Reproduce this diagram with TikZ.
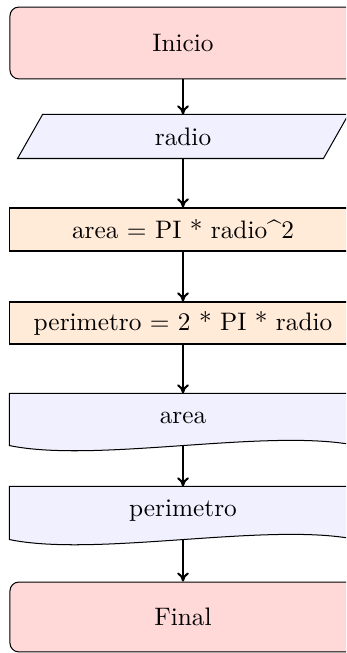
\documentclass[tikz,border=0pt]{standalone}
\usetikzlibrary{calc,arrows.meta}
\definecolor{termfill}{RGB}{255,216,216}
\definecolor{iofill}{RGB}{240,240,255}
\definecolor{procfill}{RGB}{255,235,216}
\begin{document}
\begin{tikzpicture}[x=0.3953pt,y=-0.3953pt,
  base/.style={minimum width=136.8pt,inner sep=2pt,font=\normalsize},
  term/.style={base,draw=black,fill=termfill,rounded corners=3.5pt,line width=0.4pt},
  proc/.style={base,draw=black,fill=procfill,line width=0.4pt},
  txt/.style={base,draw=none},
  ioshape/.style={draw=black,fill=iofill,line width=0.4pt},
  conn/.style={thick,-{To[length=3.6pt,width=4.6pt]}}]
\useasboundingbox (0,0) rectangle (346,653);
\clip (0,0) rectangle (346,653);
% terminal start
\node[term,minimum height=28.4pt] (ini) at (183,43) {Inicio};
% input parallelogram
\node[txt,minimum width=130.4pt,minimum height=17pt] (rad) at (183,136.5) {};
\filldraw[ioshape] (rad.south west) -- ($(rad.south east)+(-25,0)$) -- (rad.north east) -- ($(rad.north west)+(25,0)$) -- cycle;
\node at (rad.center) {radio};
% process boxes
\node[proc,minimum height=17pt] (are) at (183,229.5) {area = PI * radio\textasciicircum 2};
\node[proc,minimum height=16.6pt] (per) at (183,323) {perimetro = 2 * PI * radio};
% output documents
\node[txt,minimum height=20.2pt] (out1) at (183,419.5) {};
\filldraw[ioshape] (out1.south east) -- (out1.north east) -- (out1.north west) -- (out1.south west)
  .. controls ($(out1.south west)+(87,18)$) and ($(out1.south east)+(-87,-18)$) .. (out1.south east) -- cycle;
\node at ($(out1.center)+(0,-2)$) {area};
\node[txt,minimum height=20.6pt] (out2) at (183,513) {};
\filldraw[ioshape] (out2.south east) -- (out2.north east) -- (out2.north west) -- (out2.south west)
  .. controls ($(out2.south west)+(87,18)$) and ($(out2.south east)+(-87,-18)$) .. (out2.south east) -- cycle;
\node at ($(out2.center)+(0,-2)$) {perimetro};
% terminal end
\node[term,minimum height=27.6pt] (fin) at (183,617) {Final};
% connectors
\draw[conn] (ini) -- (rad);
\draw[conn] (rad) -- (are);
\draw[conn] (are) -- (per);
\draw[conn] (per) -- (out1);
\draw[conn] (out1.south) -- (out2.north);
\draw[conn] (out2.south) -- (fin);
\end{tikzpicture}
\end{document}
